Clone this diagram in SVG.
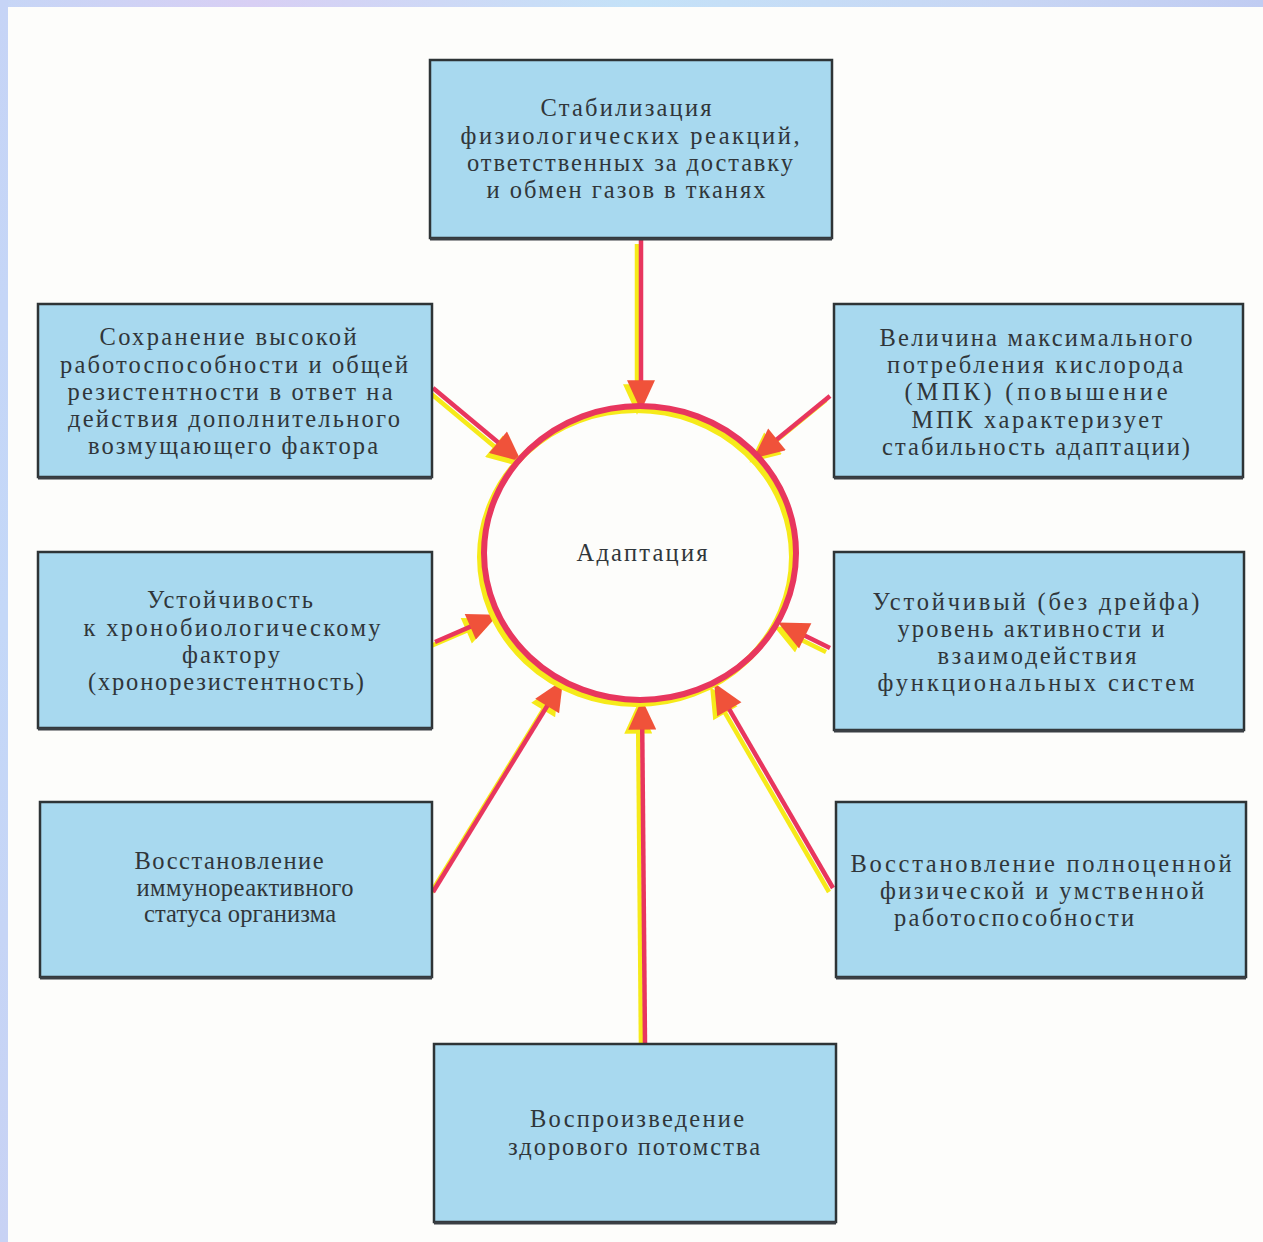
<svg xmlns="http://www.w3.org/2000/svg" width="1263" height="1242" viewBox="0 0 1263 1242">
<defs>
<linearGradient id="gTop" x1="0" y1="0" x2="1" y2="0">
<stop offset="0" stop-color="#c6d6f6"/><stop offset="0.2" stop-color="#d8cff4"/><stop offset="0.5" stop-color="#c4e2f8"/><stop offset="0.8" stop-color="#c8d6f4"/><stop offset="1" stop-color="#c0ccf2"/>
</linearGradient>
<linearGradient id="gLeft" x1="0" y1="0" x2="0" y2="1">
<stop offset="0" stop-color="#c6d4f6"/><stop offset="0.5" stop-color="#c4d8f8"/><stop offset="1" stop-color="#c8d2f4"/>
</linearGradient>
<marker id="hR" markerUnits="userSpaceOnUse" markerWidth="32" markerHeight="28" viewBox="0 0 26 24" refX="4" refY="12" orient="auto">
<path d="M0,0 L26,12 L0,24 z" fill="#f0523a"/>
</marker>
<marker id="hY" markerUnits="userSpaceOnUse" markerWidth="32" markerHeight="28" viewBox="0 0 26 24" refX="4" refY="12" orient="auto">
<path d="M0,0 L26,12 L0,24 z" fill="#f6ea1a"/>
</marker>
<style>
.box{fill:#a8d9ef;stroke:#2e3436;stroke-width:2.5}
.sh{fill:none;stroke:#3a3f44;stroke-width:3}
.t{font-family:"Liberation Serif","DejaVu Serif",serif;font-size:24.5px;fill:#30363a;text-anchor:middle}
.ly{fill:none;stroke:#f6ea1a;stroke-width:4.5;marker-end:url(#hY)}
.lr{fill:none;stroke:#e8365e;stroke-width:4.5;marker-end:url(#hR)}
</style>
</defs>
<rect x="0" y="0" width="1263" height="1242" fill="#fdfdfb"/>
<rect x="0" y="0" width="1263" height="7" fill="url(#gTop)"/>
<rect x="0" y="0" width="8" height="1242" fill="url(#gLeft)"/>

<g id="connectors">
<g transform="translate(-4,4)">
<path class="ly" d="M641,240 L641,385"/>
<path class="ly" d="M433,388 L501.6,445.2"/>
<path class="ly" d="M830,396 L773.4,442.3"/>
<path class="ly" d="M435,642 L474.6,624.9"/>
<path class="ly" d="M830,648 L801,633.8"/>
<path class="ly" d="M433,892 L549.6,702"/>
<path class="ly" d="M645,1045 L642.2,725"/>
<path class="ly" d="M833,888 L727,705.3"/>
</g>
<path class="lr" d="M641,240 L641,385"/>
<path class="lr" d="M433,388 L501.6,445.2"/>
<path class="lr" d="M830,396 L773.4,442.3"/>
<path class="lr" d="M435,642 L474.6,624.9"/>
<path class="lr" d="M830,648 L801,633.8"/>
<path class="lr" d="M433,892 L549.6,702"/>
<path class="lr" d="M645,1045 L642.2,725"/>
<path class="lr" d="M833,888 L727,705.3"/>
</g>

<g id="center">
<ellipse cx="636" cy="557" rx="156" ry="147" fill="none" stroke="#f6ea1a" stroke-width="6"/>
<ellipse cx="640" cy="553" rx="156" ry="147" fill="none" stroke="#e8365e" stroke-width="6"/>
<text class="t" x="642" y="561" textLength="131" lengthAdjust="spacing">Адаптация</text>
</g>

<g id="n-top">
<rect class="box" x="430" y="60" width="402" height="178"/>
<line class="sh" x1="430" y1="239" x2="832" y2="239"/>
<text class="t" x="626" y="116" textLength="171" lengthAdjust="spacing">Стабилизация</text>
<text class="t" x="630" y="144" textLength="339" lengthAdjust="spacing">физиологических  реакций,</text>
<text class="t" x="630" y="171" textLength="326" lengthAdjust="spacing">ответственных за доставку</text>
<text class="t" x="626" y="198" textLength="279" lengthAdjust="spacing">и обмен газов в тканях</text>
</g>

<g id="n-left1">
<rect class="box" x="38" y="304" width="394" height="173"/>
<line class="sh" x1="38" y1="478" x2="432" y2="478"/>
<text class="t" x="228" y="345" textLength="257" lengthAdjust="spacing">Сохранение высокой</text>
<text class="t" x="234" y="373" textLength="348" lengthAdjust="spacing">работоспособности и общей</text>
<text class="t" x="230" y="400" textLength="325" lengthAdjust="spacing">резистентности в ответ на</text>
<text class="t" x="234" y="427" textLength="332" lengthAdjust="spacing">действия дополнительного</text>
<text class="t" x="233" y="454" textLength="290" lengthAdjust="spacing">возмущающего фактора</text>
</g>

<g id="n-right1">
<rect class="box" x="834" y="304" width="409" height="173"/>
<line class="sh" x1="834" y1="478" x2="1243" y2="478"/>
<text class="t" x="1036" y="346" textLength="313" lengthAdjust="spacing">Величина максимального</text>
<text class="t" x="1035" y="373" textLength="296" lengthAdjust="spacing">потребления кислорода</text>
<text class="t" x="1036" y="400" textLength="263" lengthAdjust="spacing">(МПК)  (повышение</text>
<text class="t" x="1037" y="428" textLength="251" lengthAdjust="spacing">МПК  характеризует</text>
<text class="t" x="1036" y="455" textLength="308" lengthAdjust="spacing">стабильность адаптации)</text>
</g>

<g id="n-left2">
<rect class="box" x="38" y="552" width="394" height="176"/>
<line class="sh" x1="38" y1="729" x2="432" y2="729"/>
<text class="t" x="230" y="608" textLength="166" lengthAdjust="spacing">Устойчивость</text>
<text class="t" x="232" y="636" textLength="297" lengthAdjust="spacing">к хронобиологическому</text>
<text class="t" x="231" y="663" textLength="98" lengthAdjust="spacing">фактору</text>
<text class="t" x="226" y="690" textLength="276" lengthAdjust="spacing">(хронорезистентность)</text>
</g>

<g id="n-right2">
<rect class="box" x="834" y="552" width="410" height="178"/>
<line class="sh" x1="834" y1="731" x2="1244" y2="731"/>
<text class="t" x="1036" y="610" textLength="327" lengthAdjust="spacing">Устойчивый (без дрейфа)</text>
<text class="t" x="1031" y="637" textLength="267" lengthAdjust="spacing">уровень активности и</text>
<text class="t" x="1037" y="664" textLength="199" lengthAdjust="spacing">взаимодействия</text>
<text class="t" x="1036" y="691" textLength="317" lengthAdjust="spacing">функциональных систем</text>
</g>

<g id="n-left3">
<rect class="box" x="40" y="802" width="392" height="175"/>
<line class="sh" x1="40" y1="978" x2="432" y2="978"/>
<text class="t" x="229" y="869" textLength="189" lengthAdjust="spacing">Восстановление</text>
<text class="t" x="245" y="896" textLength="217" lengthAdjust="spacing">иммунореактивного</text>
<text class="t" x="240" y="922" textLength="192" lengthAdjust="spacing">статуса организма</text>
</g>

<g id="n-right3">
<rect class="box" x="836" y="802" width="410" height="175"/>
<line class="sh" x1="836" y1="978" x2="1246" y2="978"/>
<text class="t" x="1041" y="872" textLength="381" lengthAdjust="spacing">Восстановление полноценной</text>
<text class="t" x="1042" y="899" textLength="324" lengthAdjust="spacing">физической и умственной</text>
<text class="t" x="1014" y="926" textLength="240" lengthAdjust="spacing">работоспособности</text>
</g>

<g id="n-bottom">
<rect class="box" x="434" y="1044" width="402" height="178"/>
<line class="sh" x1="434" y1="1223" x2="836" y2="1223"/>
<text class="t" x="637" y="1127" textLength="214" lengthAdjust="spacing">Воспроизведение</text>
<text class="t" x="634" y="1155" textLength="252" lengthAdjust="spacing">здорового потомства</text>
</g>
</svg>
